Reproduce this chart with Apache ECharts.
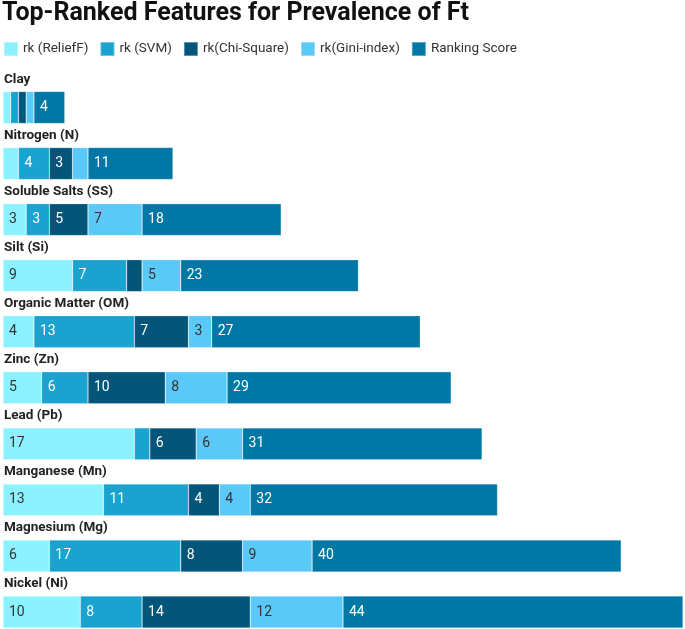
<!DOCTYPE html>
<html><head><meta charset="utf-8">
<script src="https://cdn.jsdelivr.net/npm/echarts@6/dist/echarts.min.js"></script>
<style>html,body{margin:0;padding:0;background:#fff}#c{width:685px;height:629px}</style>
</head><body><div id="c"></div>
<script>
const categories = ['Clay','Nitrogen (N)','Soluble Salts (SS)','Silt (Si)','Organic Matter (OM)','Zinc (Zn)','Lead (Pb)','Manganese (Mn)','Magnesium (Mg)','Nickel (Ni)'];
const seriesNames = ['rk (ReliefF)','rk (SVM)','rk(Chi-Square)','rk(Gini-index)','Ranking Score'];
const reliefF = [1,2,3,9,4,5,17,13,6,10];
const svm = [1,4,3,7,13,6,2,11,17,8];
const chiSquare = [1,3,5,2,7,10,6,4,8,14];
const gini = [1,2,7,5,3,8,6,4,9,12];
const rankingScore = [4,11,18,23,27,29,31,32,40,44];
const colors = ['#8cf2ff','#1ba3cf','#03557a','#5bc9f7','#0077a4'];
const labelColors = ['#333','#fff','#fff','#333','#fff'];
const allData = [reliefF, svm, chiSquare, gini, rankingScore];
const xMax = categories.map((c,i)=>allData.reduce((s,a)=>s+a[i],0)).reduce((a,b)=>Math.max(a,b),0);

const chart = echarts.init(document.getElementById('c'));
chart.setOption({
  animation:false,
  textStyle:{fontFamily:'Roboto'},
  title:{text:'Top-Ranked Features for Prevalence of Ft',left:2,top:1,padding:0,textStyle:{fontFamily:'Roboto',fontWeight:'bold',fontSize:25,color:'#111'}},
  legend:{left:3,top:41,padding:0,itemWidth:14,itemHeight:14,itemGap:11,icon:'rect',textStyle:{fontSize:13.5,color:'#333',fontFamily:'Roboto'},data:seriesNames},
  grid:{left:3,right:2,top:107.5,height:504.5,containLabel:false},
  xAxis:{type:'value',min:0,max:xMax,show:false},
  yAxis:{type:'category',data:categories,inverse:true,boundaryGap:false,
    axisLine:{show:false},axisTick:{show:false},splitLine:{show:false},
    axisLabel:{inside:true,margin:1,align:'left',verticalAlign:'bottom',padding:[0,0,21,0],fontSize:13.5,fontWeight:'bold',color:'#222',fontFamily:'Roboto'}},
  series: seriesNames.map((n,k)=>({
    name:n,type:'bar',stack:'total',barWidth:32,clip:false,data:allData[k],
    itemStyle:{color:colors[k],borderColor:'rgba(255,255,255,0.35)',borderWidth:0.6},
    label:{show:true,position:'insideLeft',distance:6,fontSize:14,color:labelColors[k],fontFamily:'Roboto',
      formatter:p=>p.value>=3||k===4?String(p.value):''}
  }))
});
</script></body></html>
